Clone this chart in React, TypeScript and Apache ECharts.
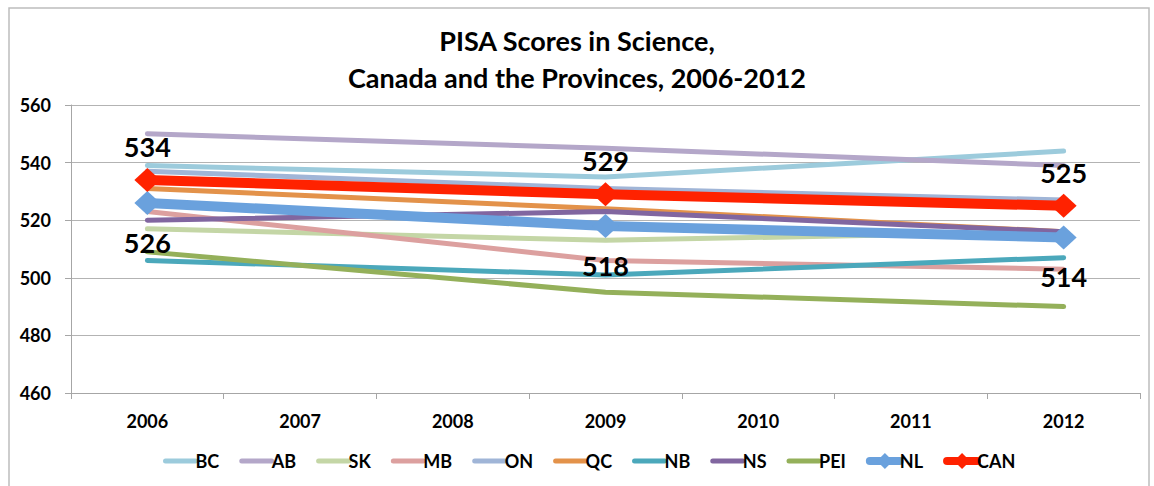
import React, { useEffect, useRef } from "react";
import * as echarts from "echarts";

const years = ["2006", "2007", "2008", "2009", "2010", "2011", "2012"];
const provinces = ["BC", "AB", "SK", "MB", "ON", "QC", "NB", "NS", "PEI", "NL", "CAN"];
const BC = [539, null, null, 535, null, null, 544];
const AB = [550, null, null, 545, null, null, 539];
const SK = [517, null, null, 513, null, null, 516];
const MB = [523, null, null, 506, null, null, 503];
const ON = [537, null, null, 531, null, null, 527];
const QC = [531, null, null, 524, null, null, 516];
const NB = [506, null, null, 501, null, null, 507];
const NS = [520, null, null, 523, null, null, 516];
const PEI = [509, null, null, 495, null, null, 490];
const NL = [526, null, null, 518, null, null, 514];
const CAN = [534, null, null, 529, null, null, 525];
const seriesValues = [BC, AB, SK, MB, ON, QC, NB, NS, PEI, NL, CAN];
const colors = ["#9ccbdc", "#b4a7c9", "#c4d6a6", "#dca09f", "#a0b5d7", "#e3924a", "#4ba8bb", "#8166a0", "#94b05a", "#6aa1dd", "#ff2200"];

const FONT = "Lato, 'Open Sans', sans-serif";

export default function App() {
  const ref = useRef<HTMLDivElement>(null);
  useEffect(() => {
    const chart = echarts.init(ref.current!, null, { renderer: "svg" });
    const isBig = (n: string) => n === "NL" || n === "CAN";
    const series = provinces.map((name, i) => {
      const big = isBig(name);
      const s: any = {
        name,
        type: "line",
        data: seriesValues[i],
        connectNulls: true,
        color: colors[i],
        lineStyle: { width: big ? 10 : 5, color: colors[i], cap: "round", join: "round" },
        symbol: big ? "diamond" : "none",
        symbolSize: big ? [26, 24] : 0,
        showSymbol: big,
        itemStyle: { color: colors[i] },
        z: big ? (name === "CAN" ? 5 : 4) : 2,
      };
      if (big) {
        s.label = {
          show: true,
          position: name === "CAN" ? "top" : "bottom",
          distance: name === "CAN" ? 8 : 14,
          color: "#000",
          fontSize: 27,
          fontWeight: "bold",
          fontFamily: FONT,
        };
      }
      return s;
    });
    const legendData = provinces.map((name) =>
      isBig(name)
        ? { name, lineStyle: { width: 8, cap: "round" } }
        : { name, lineStyle: { width: 5, cap: "round" }, itemStyle: { opacity: 0 } }
    );
    chart.setOption({
      animation: false,
      backgroundColor: "#fff",
      title: {
        text: "PISA Scores in Science,\nCanada and the Provinces, 2006-2012",
        left: "center",
        top: 17,
        textStyle: { fontSize: 27, fontWeight: "bold", fontFamily: FONT, color: "#000", lineHeight: 37 },
      },
      graphic: [
        {
          type: "rect",
          shape: { x: 9, y: 8, width: 1140, height: 500 },
          style: { fill: "none", stroke: "#bdbdbd", lineWidth: 1.5 },
          silent: true,
        },
      ],
      legend: {
        bottom: 11,
        left: 158,
        itemWidth: 30,
        itemHeight: 20,
        itemGap: 20,
        textStyle: { fontSize: 18, fontWeight: "bold", fontFamily: FONT, color: "#000", padding: [0, 0, 0, -5] },
        data: legendData,
      },
      grid: { left: 71, right: 14, top: 105, bottom: 93 },
      xAxis: {
        type: "category",
        data: years,
        boundaryGap: true,
        axisLine: { lineStyle: { color: "#a6a6a6", width: 1 } },
        axisTick: { show: true, length: 6, lineStyle: { color: "#a6a6a6" } },
        axisLabel: { fontSize: 18, fontWeight: "bold", fontFamily: FONT, color: "#000", margin: 19 },
      },
      yAxis: {
        type: "value",
        min: 460,
        max: 560,
        interval: 20,
        axisLine: { show: true, lineStyle: { color: "#a6a6a6" } },
        axisTick: { show: true, length: 6, lineStyle: { color: "#a6a6a6" } },
        splitLine: { lineStyle: { color: "#b3b3b3", width: 1 } },
        axisLabel: { fontSize: 18, fontWeight: "bold", fontFamily: FONT, color: "#000", margin: 20 },
      },
      series,
    });
    return () => chart.dispose();
  }, []);
  return <div ref={ref} style={{ position: "absolute", left: 0, top: 0, width: 1154, height: 486 }} />;
}
